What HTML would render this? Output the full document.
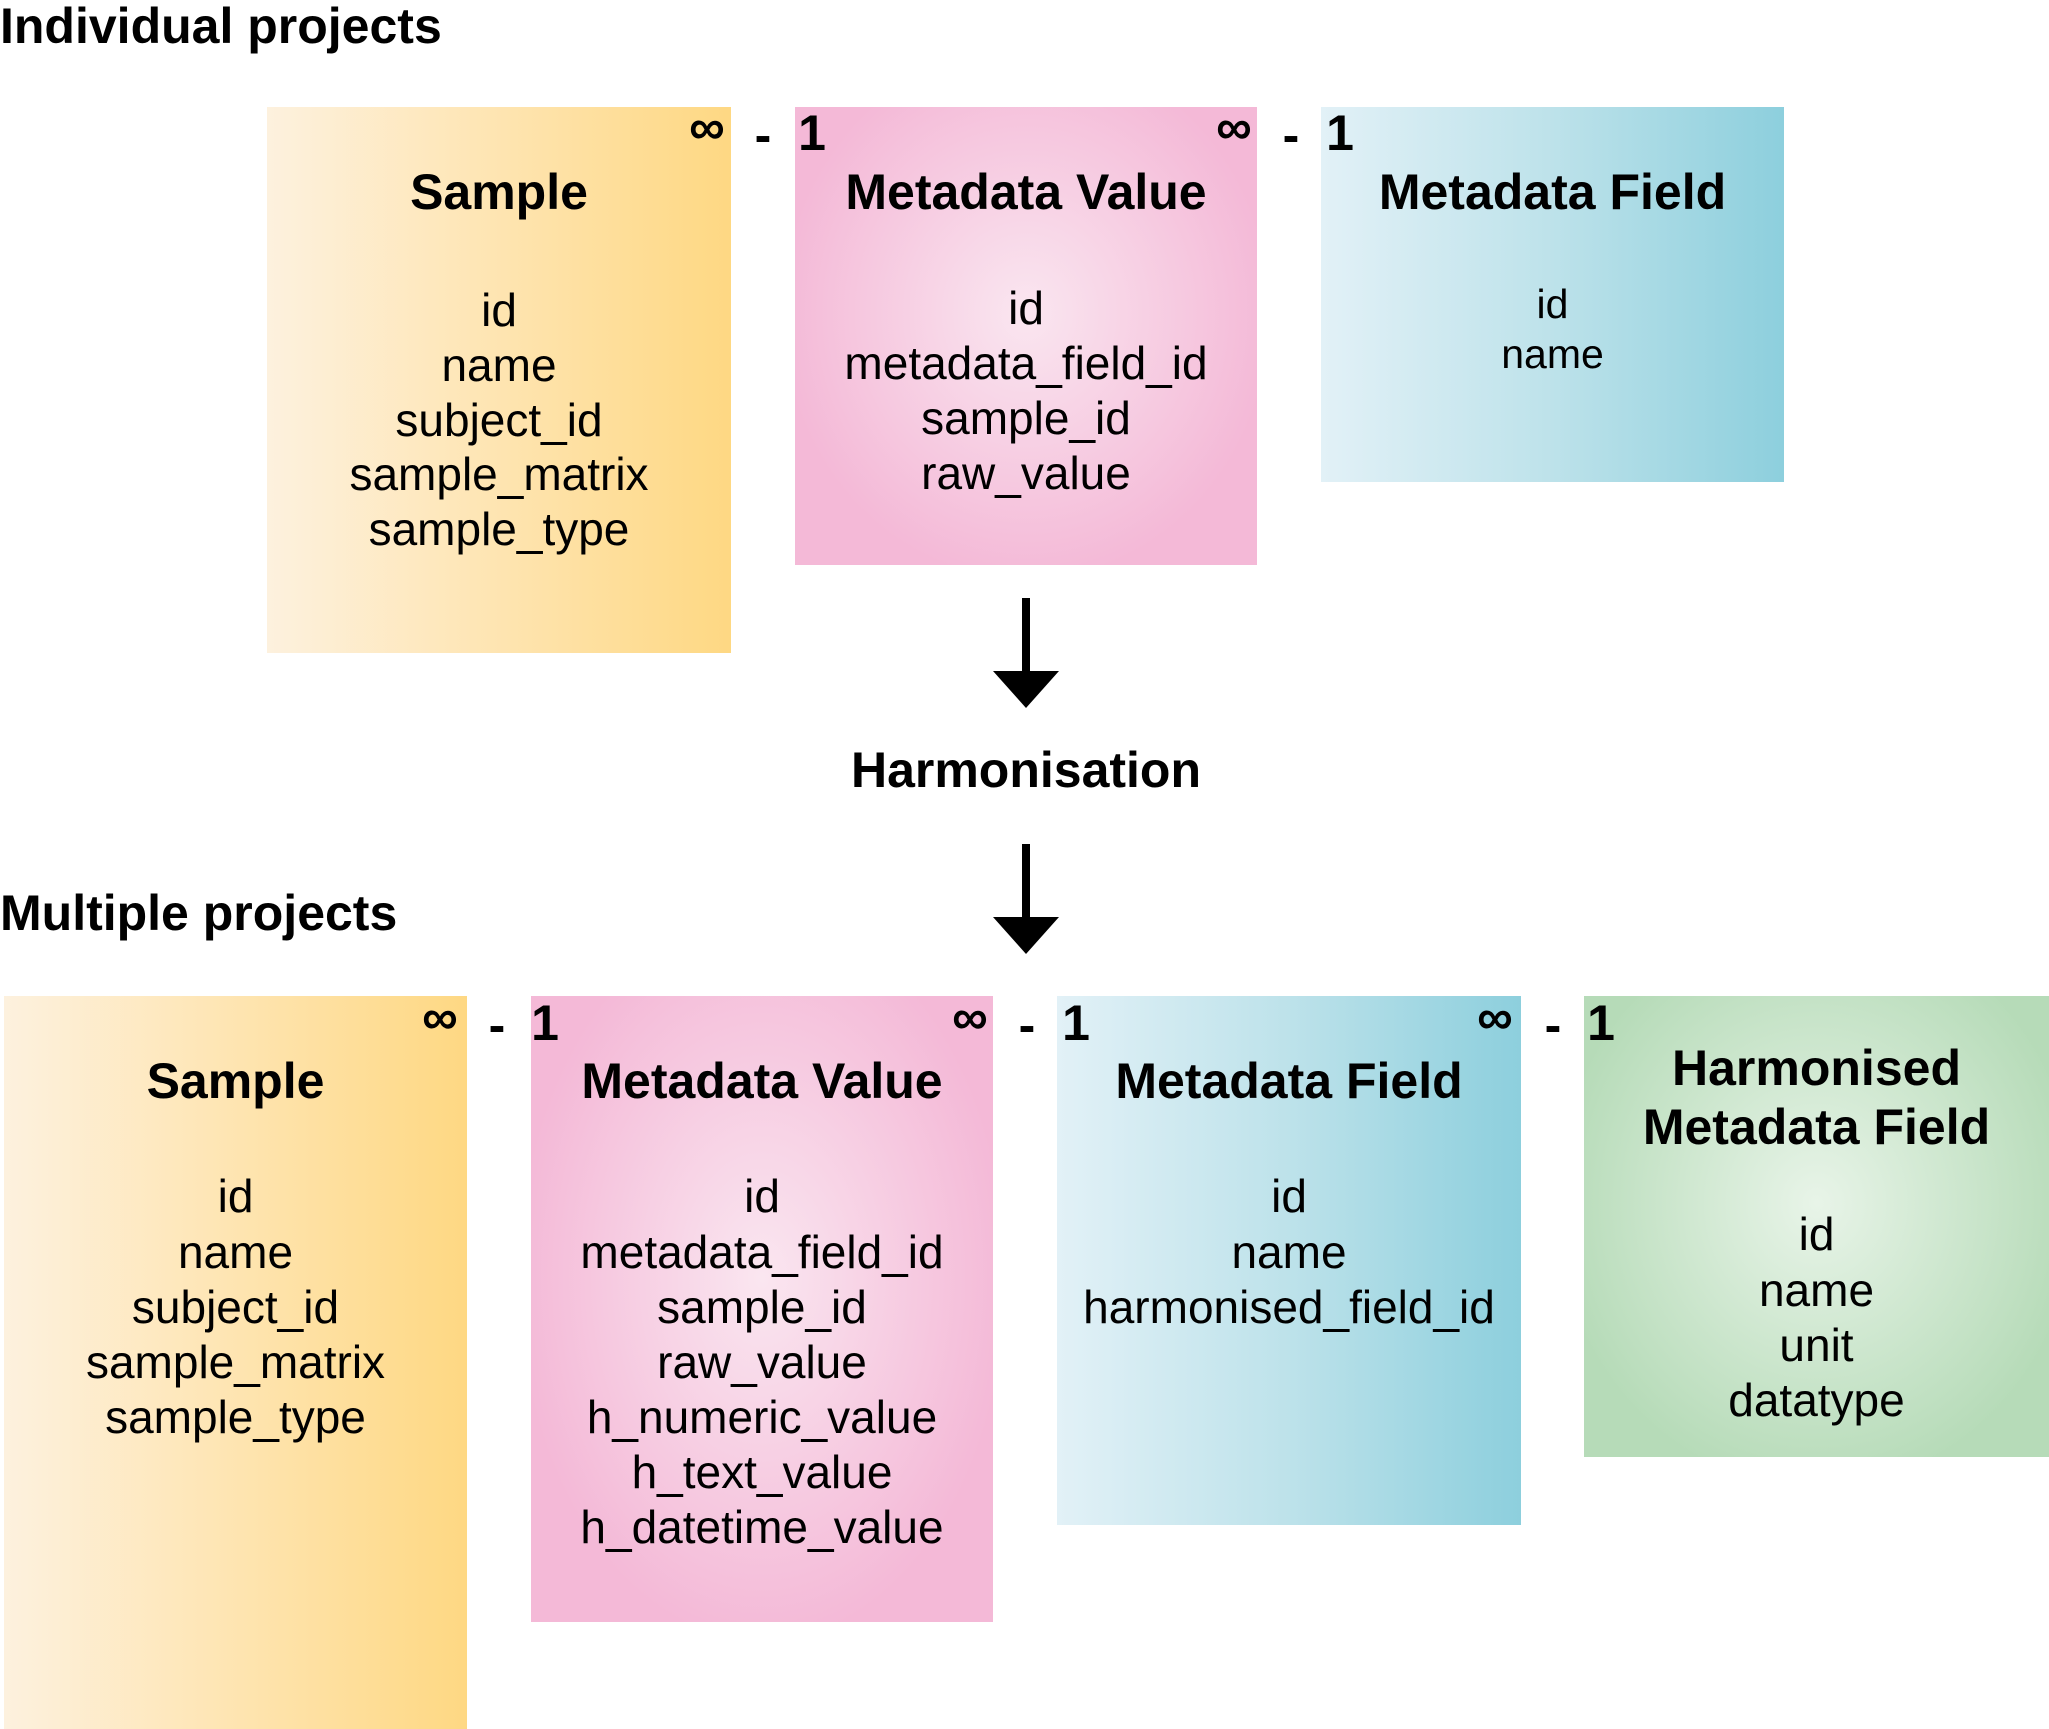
<!DOCTYPE html>
<html><head><meta charset="utf-8"><style>
body{margin:0;width:2049px;height:1729px;background:#fff;position:relative;overflow:hidden;font-family:"Liberation Sans",sans-serif;color:#000}
.b{position:absolute}
.t{position:absolute;text-align:center;white-space:nowrap;line-height:60px;height:60px}
.h{font-weight:bold;font-size:50px}
.f{font-size:46px}
.y{background:linear-gradient(to right,#fdf1de,#fee2a8 60%,#fed883)}
.p{background:radial-gradient(ellipse at 50% 45%,#fae6f0 0%,#f4b9d7 75%)}
.c{background:linear-gradient(to right,#e2f1f7,#bde2ea 50%,#8dcfdd)}
.g{background:radial-gradient(ellipse at 50% 45%,#e8f4e8 0%,#b6dbb8 80%)}
</style></head><body>
<div class="t h" style="left:0;top:-4px;text-align:left;font-size:50px">Individual projects</div>
<div class="t h" style="left:0;top:883px;text-align:left;font-size:50px">Multiple projects</div>

<div class="b y" style="left:267px;top:107px;width:464px;height:546px"></div>
<div class="b p" style="left:795px;top:107px;width:462px;height:458px"></div>
<div class="b c" style="left:1321px;top:107px;width:463px;height:375px"></div>

<div class="t h" style="left:267px;width:464px;top:162px">Sample</div>
<div class="t f" style="left:267px;width:464px;top:280px">id</div>
<div class="t f" style="left:267px;width:464px;top:335px">name</div>
<div class="t f" style="left:267px;width:464px;top:390px">subject_id</div>
<div class="t f" style="left:267px;width:464px;top:444px">sample_matrix</div>
<div class="t f" style="left:267px;width:464px;top:499px">sample_type</div>

<div class="t h" style="left:795px;width:462px;top:162px">Metadata Value</div>
<div class="t f" style="left:795px;width:462px;top:278px">id</div>
<div class="t f" style="left:795px;width:462px;top:333px">metadata_field_id</div>
<div class="t f" style="left:795px;width:462px;top:388px">sample_id</div>
<div class="t f" style="left:795px;width:462px;top:443px">raw_value</div>

<div class="t h" style="left:1321px;width:463px;top:162px">Metadata Field</div>
<div class="t f" style="left:1321px;width:463px;top:274px;font-size:41px">id</div>
<div class="t f" style="left:1321px;width:463px;top:324px;font-size:41px">name</div>

<div class="t h" style="left:677px;width:60px;top:97px">∞</div>
<div class="t h" style="left:733px;width:60px;top:105px">-</div>
<div class="t h" style="left:782px;width:60px;top:103px">1</div>
<div class="t h" style="left:1204px;width:60px;top:97px">∞</div>
<div class="t h" style="left:1261px;width:60px;top:105px">-</div>
<div class="t h" style="left:1310px;width:60px;top:103px">1</div>

<svg class="b" style="left:0;top:0" width="2049" height="1729">
<rect x="1022" y="598" width="8" height="74" fill="#000"/>
<polygon points="993,671 1059,671 1026,708" fill="#000"/>
<rect x="1022" y="844" width="8" height="74" fill="#000"/>
<polygon points="993,917 1059,917 1026,954" fill="#000"/>
</svg>
<div class="t h" style="left:726px;width:600px;top:740px">Harmonisation</div>

<div class="b y" style="left:4px;top:996px;width:463px;height:733px"></div>
<div class="b p" style="left:531px;top:996px;width:462px;height:626px"></div>
<div class="b c" style="left:1057px;top:996px;width:464px;height:529px"></div>
<div class="b g" style="left:1584px;top:996px;width:465px;height:461px"></div>

<div class="t h" style="left:4px;width:463px;top:1051px">Sample</div>
<div class="t f" style="left:4px;width:463px;top:1166px">id</div>
<div class="t f" style="left:4px;width:463px;top:1222px">name</div>
<div class="t f" style="left:4px;width:463px;top:1277px">subject_id</div>
<div class="t f" style="left:4px;width:463px;top:1332px">sample_matrix</div>
<div class="t f" style="left:4px;width:463px;top:1387px">sample_type</div>

<div class="t h" style="left:531px;width:462px;top:1051px">Metadata Value</div>
<div class="t f" style="left:531px;width:462px;top:1166px">id</div>
<div class="t f" style="left:531px;width:462px;top:1222px">metadata_field_id</div>
<div class="t f" style="left:531px;width:462px;top:1277px">sample_id</div>
<div class="t f" style="left:531px;width:462px;top:1332px">raw_value</div>
<div class="t f" style="left:531px;width:462px;top:1387px">h_numeric_value</div>
<div class="t f" style="left:531px;width:462px;top:1442px">h_text_value</div>
<div class="t f" style="left:531px;width:462px;top:1497px">h_datetime_value</div>

<div class="t h" style="left:1057px;width:464px;top:1051px">Metadata Field</div>
<div class="t f" style="left:1057px;width:464px;top:1166px">id</div>
<div class="t f" style="left:1057px;width:464px;top:1222px">name</div>
<div class="t f" style="left:1057px;width:464px;top:1277px">harmonised_field_id</div>

<div class="t h" style="left:1584px;width:465px;top:1038px">Harmonised</div>
<div class="t h" style="left:1584px;width:465px;top:1097px">Metadata Field</div>
<div class="t f" style="left:1584px;width:465px;top:1204px">id</div>
<div class="t f" style="left:1584px;width:465px;top:1260px">name</div>
<div class="t f" style="left:1584px;width:465px;top:1315px">unit</div>
<div class="t f" style="left:1584px;width:465px;top:1370px">datatype</div>

<div class="t h" style="left:410px;width:60px;top:987px">∞</div>
<div class="t h" style="left:467px;width:60px;top:995px">-</div>
<div class="t h" style="left:515px;width:60px;top:993px">1</div>
<div class="t h" style="left:940px;width:60px;top:987px">∞</div>
<div class="t h" style="left:997px;width:60px;top:995px">-</div>
<div class="t h" style="left:1046px;width:60px;top:993px">1</div>
<div class="t h" style="left:1465px;width:60px;top:987px">∞</div>
<div class="t h" style="left:1523px;width:60px;top:995px">-</div>
<div class="t h" style="left:1571px;width:60px;top:993px">1</div>
</body></html>
